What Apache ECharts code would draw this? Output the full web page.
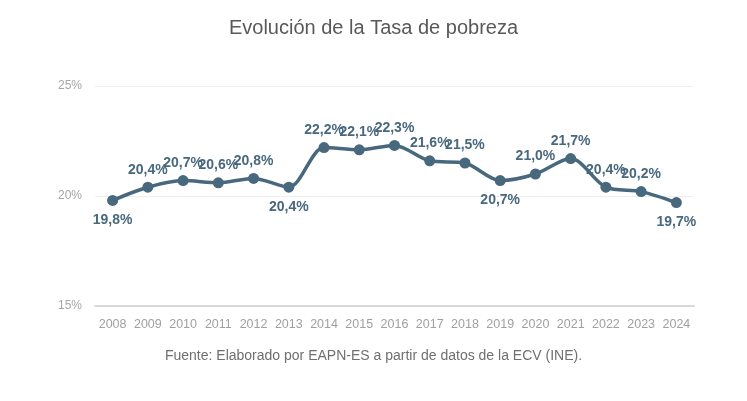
<!DOCTYPE html>
<html>
<head>
<meta charset="utf-8">
<script src="https://cdn.jsdelivr.net/npm/echarts@6/dist/echarts.min.js"></script>
<style>
  html, body { margin: 0; padding: 0; background: #fff; }
  #chart { width: 747px; height: 401px; }
</style>
</head>
<body>
<div id="chart"></div>
<script>
// data
const years = ["2008", "2009", "2010", "2011", "2012", "2013", "2014", "2015", "2016",
               "2017", "2018", "2019", "2020", "2021", "2022", "2023", "2024"];
const tasaPobreza = [19.8, 20.4, 20.7, 20.6, 20.8, 20.4, 22.2, 22.1, 22.3,
                     21.6, 21.5, 20.7, 21.0, 21.7, 20.4, 20.2, 19.7];
// years whose label sits under the point
const labelBelow = ["2008", "2013", "2019", "2024"];

const lineColor = "#48687e";

const chart = echarts.init(document.getElementById("chart"), null, { renderer: "canvas" });

const seriesData = tasaPobreza.map(function (v, i) {
    const below = labelBelow.indexOf(years[i]) >= 0;
    return {
        value: v,
        label: { position: below ? "bottom" : "top", distance: below ? 7 : 5 }
    };
});

const option = {
    backgroundColor: "#fff",
    textStyle: { fontFamily: "Liberation Sans, Arial, sans-serif" },
    title: [
        {
            text: "Evolución de la Tasa de pobreza",
            left: "center",
            top: 13,
            textStyle: { fontSize: 20, fontWeight: "normal", color: "#595959" }
        },
        {
            text: "Fuente: Elaborado por EAPN-ES a partir de datos de la ECV (INE).",
            left: "center",
            top: 344,
            textStyle: { fontSize: 14, fontWeight: "normal", color: "#6f6f6f" }
        }
    ],
    grid: { left: 95, right: 53, top: 86, bottom: 95, containLabel: false },
    xAxis: {
        type: "category",
        data: years,
        boundaryGap: true,
        axisLine: { show: true, lineStyle: { color: "#d9d9d9", width: 2 } },
        axisTick: { show: false },
        axisLabel: { color: "#a0a0a0", fontSize: 12.5, margin: 12, interval: 0 }
    },
    yAxis: {
        type: "value",
        min: 15,
        max: 25,
        interval: 5,
        axisLine: { show: false },
        axisTick: { show: false },
        axisLabel: {
            color: "#a6a6a6",
            fontSize: 12,
            margin: 13,
            formatter: function (v) { return v + "%"; }
        },
        splitLine: { lineStyle: { color: "#eeeeee", width: 1 } }
    },
    series: [
        {
            name: "Tasa de pobreza",
            type: "line",
            data: seriesData,
            smooth: 0.3,
            symbol: "circle",
            symbolSize: 11,
            lineStyle: { color: lineColor, width: 3.5 },
            itemStyle: { color: lineColor },
            label: {
                show: true,
                color: lineColor,
                fontSize: 14,
                fontWeight: "bold",
                formatter: function (p) { return p.value.toFixed(1).replace(".", ",") + "%"; }
            }
        }
    ]
};

chart.setOption(option);
</script>
</body>
</html>
